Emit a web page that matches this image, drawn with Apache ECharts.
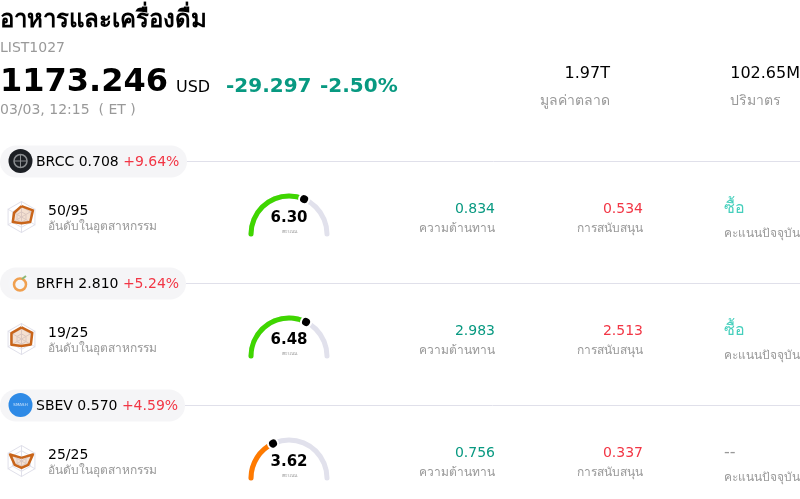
<!DOCTYPE html>
<html>
<head>
<meta charset="utf-8">
<style>
  html, body { margin: 0; padding: 0; background: #fff; }
  #main { width: 800px; height: 499px; }
</style>
<script src="https://cdn.jsdelivr.net/npm/echarts@6/dist/echarts.min.js"></script>
</head>
<body>
<div id="main"></div>
<script type="text/javascript">
    // data
    var tickers = ['BRCC', 'BRFH', 'SBEV'];
    var prices = ['0.708', '2.810', '0.570'];
    var changes = ['+9.64%', '+5.24%', '+4.59%'];
    var ranks = ['50/95', '19/25', '25/25'];
    var scores = [6.30, 6.48, 3.62];
    var resistances = ['0.834', '2.983', '0.756'];
    var supports = ['0.534', '2.513', '0.337'];
    var ratings = ['ซื้อ', 'ซื้อ', '--'];
    var radarNames = ['a', 'b', 'c', 'd', 'e', 'f'];
    // counter clockwise from the top
    var radarBRCC = [0.70, 0.55, 0.65, 0.40, 0.65, 0.85];
    var radarBRFH = [0.75, 0.75, 0.75, 0.45, 0.70, 0.80];
    var radarSBEV = [0.20, 0.85, 0.50, 0.45, 0.50, 0.85];
    var radarValues = [radarBRCC, radarBRFH, radarSBEV];

    var FONT = '"DejaVu Sans", "Noto Sans", sans-serif';
    var GREY = '#999999', TEAL = '#089981', RED = '#f23645', LINE = '#e0e0ea';
    var ROW = 122;

    var myChart = echarts.init(document.getElementById('main'));

    function txt(x, y, text, size, color, extra) {
        var style = { x: x, y: y, text: text, fontSize: size, fill: color, fontFamily: FONT, verticalAlign: 'middle', align: 'left' };
        for (var k in (extra || {})) style[k] = extra[k];
        return { type: 'text', silent: true, style: style };
    }

    // page header
    var graphic = [
        txt(0, 21, 'อาหารและเครื่องดื่ม', 24, '#000', { fontWeight: 'bold' }),
        txt(0, 48, 'LIST1027', 14, GREY),
        txt(0, 83, '1173.246', 32, '#000', { fontWeight: 'bold' }),
        txt(176, 88, 'USD', 16, '#000'),
        txt(226, 87, '-29.297', 20, TEAL, { fontWeight: 'bold' }),
        txt(320, 87, '-2.50%', 20, TEAL, { fontWeight: 'bold' }),
        txt(0, 110, '03/03, 12:15  ( ET )', 14, GREY),
        txt(610, 74, '1.97T', 16, '#000', { align: 'right' }),
        txt(610, 101, 'มูลค่าตลาด', 14, GREY, { align: 'right' }),
        txt(800, 74, '102.65M', 16, '#000', { align: 'right' }),
        txt(730, 101, 'ปริมาตร', 14, GREY)
    ];
    var pillWidths = [187, 186, 185];
    var logoColors = ['#1c1f24', '#f5f6f9', '#2e8ae6'];
    var radars = [], series = [];

    tickers.forEach(function (name, i) {
        var dy = i * ROW;
        var scoreColor = scores[i] >= 5 ? '#3fd600' : '#ff7a00';

        graphic.push(
            { type: 'line', silent: true, shape: { x1: pillWidths[i], y1: 161.5 + dy, x2: 800, y2: 161.5 + dy }, style: { stroke: LINE, lineWidth: 1 } },
            { type: 'rect', silent: true, shape: { x: 0, y: 145.5 + dy, width: pillWidths[i], height: 32, r: 16 }, style: { fill: '#f5f5f7' } },
            { type: 'circle', silent: true, shape: { cx: 20.5, cy: 161 + dy, r: 12 }, style: { fill: logoColors[i] } }
        );
        // little logos
        if (i == 0) {
            graphic.push(
                { type: 'circle', silent: true, shape: { cx: 20.5, cy: 161, r: 6.5 }, style: { fill: 'none', stroke: '#8a8d90', lineWidth: 1.5 } },
                { type: 'line', silent: true, shape: { x1: 14, y1: 161, x2: 27, y2: 161 }, style: { stroke: '#8a8d90', lineWidth: 1 } },
                { type: 'line', silent: true, shape: { x1: 20.5, y1: 154.5, x2: 20.5, y2: 167.5 }, style: { stroke: '#8a8d90', lineWidth: 1 } }
            );
        } else if (i == 1) {
            graphic.push(
                { type: 'circle', silent: true, shape: { cx: 20, cy: 284.5, r: 6 }, style: { fill: 'none', stroke: '#f0a050', lineWidth: 2.5 } },
                { type: 'line', silent: true, shape: { x1: 22, y1: 279, x2: 26, y2: 276 }, style: { stroke: '#8cb878', lineWidth: 2 } }
            );
        } else {
            graphic.push(
                txt(20.5, 405, 'SMASH', 4, '#cfe4fb', { align: 'center' })
            );
        }
        graphic.push(
            txt(36, 162 + dy, '{n|' + name + ' ' + prices[i] + '} {c|' + changes[i] + '}', 14, '#000', {
                rich: {
                    n: { fontSize: 14, fill: '#000', color: '#000', fontFamily: FONT },
                    c: { fontSize: 14, fill: RED, color: RED, fontFamily: FONT }
                }
            }),
            txt(48, 211 + dy, ranks[i], 14, '#000'),
            txt(48, 227 + dy, 'อันดับในอุตสาหกรรม', 12, GREY),
            txt(495, 209 + dy, resistances[i], 14, TEAL, { align: 'right' }),
            txt(495, 229 + dy, 'ความต้านทาน', 12, GREY, { align: 'right' }),
            txt(643, 209 + dy, supports[i], 14, RED, { align: 'right' }),
            txt(643, 229 + dy, 'การสนับสนุน', 12, GREY, { align: 'right' }),
            txt(724, 209 + dy, ratings[i], 16, ratings[i] == '--' ? GREY : '#45cfbc'),
            txt(724, 234 + dy, 'คะแนนปัจจุบัน', 12, GREY)
        );

        // radar icon
        radars.push({
            center: [21.5, 217 + dy],
            radius: 15.5,
            startAngle: 90,
            splitNumber: 3,
            shape: 'polygon',
            indicator: radarNames.map(function (n) { return { name: n, max: 1, min: 0 }; }),
            axisName: { show: false },
            axisLine: { lineStyle: { color: LINE, width: 1 } },
            splitLine: { lineStyle: { color: LINE, width: 1 } },
            splitArea: { show: false }
        });
        series.push({
            type: 'radar',
            radarIndex: i,
            symbol: 'none',
            silent: true,
            animation: false,
            lineStyle: { color: '#c9651a', width: 2.5 },
            areaStyle: { color: '#c9651a', opacity: 0.2 },
            data: [{ value: radarValues[i] }]
        });

        // score gauge
        series.push({
            type: 'gauge',
            z: 2,
            center: [289, 234 + dy],
            radius: 40.5,
            min: 0,
            max: 10,
            startAngle: 180,
            endAngle: 0,
            silent: true,
            animation: false,
            axisLine: { roundCap: true, lineStyle: { width: 5, color: [[1, '#e1e1ec']] } },
            progress: { show: true, width: 5, roundCap: true, itemStyle: { color: scoreColor } },
            splitLine: { show: false },
            axisTick: { show: false },
            axisLabel: { show: false },
            anchor: { show: false },
            pointer: { show: false },
            title: { offsetCenter: [0, -2], fontSize: 5, color: GREY, fontFamily: FONT },
            detail: {
                offsetCenter: [0, -16],
                fontSize: 15,
                fontWeight: 'bold',
                color: '#000',
                fontFamily: FONT,
                formatter: function (v) { return v.toFixed(2); }
            },
            data: [{ value: scores[i], name: 'คะแนน' }]
        });
        // marker dots on the same gauge scale, white one cuts the gap
        [[12, '#fff', 3], [8, '#000', 4]].forEach(function (dot) {
            series.push({
                type: 'gauge',
                z: dot[2],
                center: [289, 234 + dy],
                radius: 40.5,
                min: 0,
                max: 10,
                startAngle: 180,
                endAngle: 0,
                silent: true,
                animation: false,
                axisLine: { show: false },
                progress: { show: false },
                splitLine: { show: false },
                axisTick: { show: false },
                axisLabel: { show: false },
                anchor: { show: false },
                title: { show: false },
                detail: { show: false },
                pointer: {
                    show: true,
                    icon: 'circle',
                    width: dot[0],
                    length: dot[0],
                    offsetCenter: [0, -38 + dot[0] / 2],
                    itemStyle: { color: dot[1] }
                },
                data: [{ value: scores[i] }]
            });
        });
    });

    var option = {
        backgroundColor: '#fff',
        animation: false,
        radar: radars,
        series: series,
        graphic: graphic
    };

    myChart.setOption(option);
</script>
</body>
</html>
